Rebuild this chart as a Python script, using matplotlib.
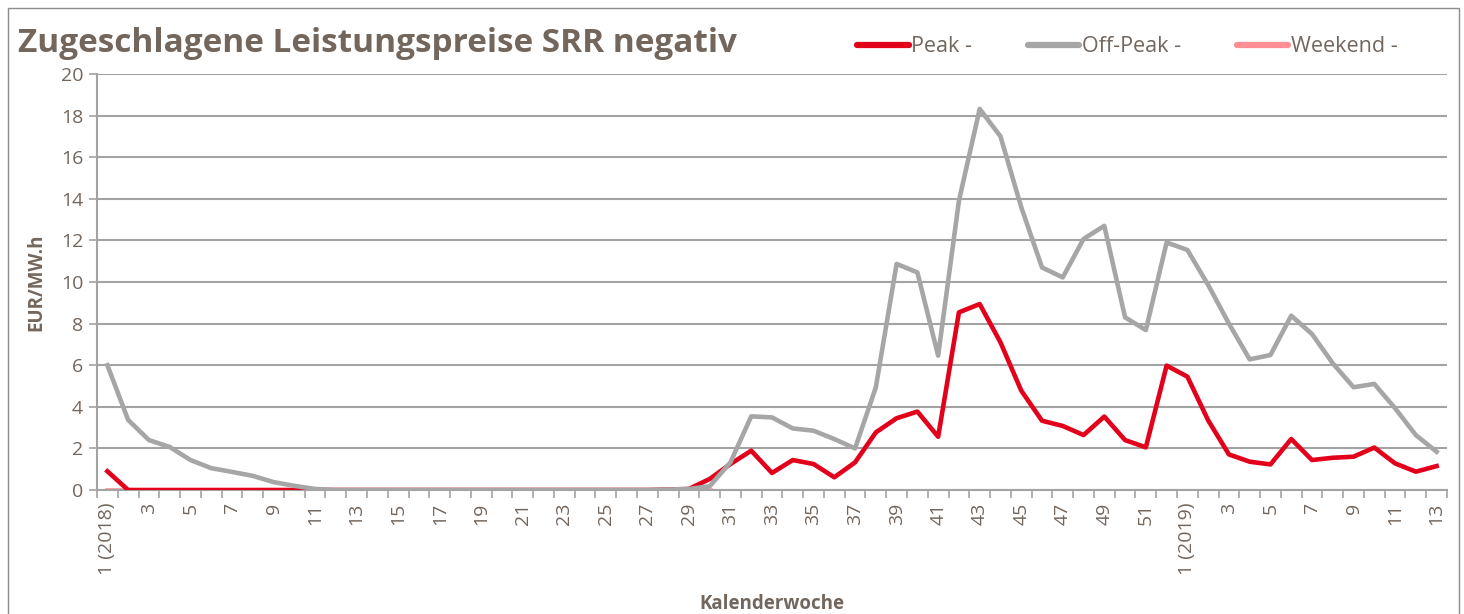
import numpy as np
import matplotlib.pyplot as plt
from matplotlib.patches import Rectangle

# Kalenderwochen 1..52 (2018) und 1..13 (2019)
weeks_2018 = list(range(1, 53))
weeks_2019 = list(range(1, 14))

peak = [0.9, 0, 0, 0, 0, 0, 0, 0, 0, 0,
        0, 0, 0, 0, 0, 0, 0, 0, 0, 0,
        0, 0, 0, 0, 0, 0, 0, 0.02, 0.05, 0.53,
        1.25, 1.89, 0.82, 1.44, 1.25, 0.61, 1.33, 2.77, 3.45, 3.77,
        2.56, 8.54, 8.94, 7.1, 4.78, 3.33, 3.08, 2.64, 3.53, 2.4,
        2.05, 5.98,
        5.45, 3.35, 1.71, 1.36, 1.23, 2.45, 1.44, 1.55, 1.6, 2.04,
        1.28, 0.88, 1.15]

offpeak = [6.0, 3.37, 2.4, 2.07, 1.44, 1.05, 0.87, 0.68, 0.38, 0.2,
           0.05, 0, 0, 0, 0, 0, 0, 0, 0, 0,
           0, 0, 0, 0, 0, 0, 0, 0.02, 0.05, 0.18,
           1.33, 3.54, 3.49, 2.96, 2.85, 2.45, 2.0, 4.94, 10.87, 10.46,
           6.46, 13.9, 18.32, 17.0, 13.6, 10.7, 10.22, 12.07, 12.7, 8.3,
           7.69, 11.9,
           11.54, 9.86, 8.0, 6.28, 6.49, 8.38, 7.5, 6.09, 4.94, 5.1,
           3.93, 2.64, 1.84]

weekend = [0.0] * 30 + [np.nan] * 35

labels = [f"{w} (2018)" if w == 1 else str(w) for w in weeks_2018] + \
         [f"{w} (2019)" if w == 1 else str(w) for w in weeks_2019]

txt = '#73665c'
grid = '#a3a3a3'

plt.rcParams['font.family'] = ['Open Sans', 'DejaVu Sans']

fig = plt.figure(figsize=(14.64, 6.14), dpi=100)
ax = fig.add_axes([97 / 1464, 1 - 490 / 614, 1350 / 1464, 416 / 614])

x = np.arange(len(labels))
ax.plot(x, weekend, color='#ff8f95', lw=3.3, label='Weekend -', zorder=2)
ax.plot(x, peak, color='#e2001a', lw=3.3, label='Peak -', zorder=3)
ax.plot(x, offpeak, color='#a6a6a6', lw=3.3, label='Off-Peak -', zorder=4)

ax.set_ylim(0, 20)
ax.set_yticks(range(0, 21, 2))
ax.set_xlim(-0.5, len(labels) - 0.5)
ax.set_xticks(x[::2])
ax.set_xticklabels(labels[::2], rotation=90)
ax.set_xticks(np.arange(-0.5, len(labels)), minor=True)
ax.tick_params(axis='x', which='major', length=0, pad=9, labelsize=14, labelcolor=txt)
ax.tick_params(axis='x', which='minor', length=6, width=1.2, color=grid, direction='out')
ax.tick_params(axis='y', length=6, width=1.2, color=grid, labelsize=14, labelcolor=txt, pad=4)

ax.grid(axis='y', color=grid, lw=1.5)
ax.set_axisbelow(True)
for s in ['top', 'right']:
    ax.spines[s].set_visible(False)
for s in ['left', 'bottom']:
    ax.spines[s].set_color(grid)
    ax.spines[s].set_linewidth(1.5)

ax.set_ylabel('EUR/MW.h', fontsize=13.5, fontweight='bold', color=txt, labelpad=10)
ax.set_xlabel('Kalenderwoche', fontsize=13.5, fontweight='bold', color=txt, labelpad=14)

fig.text(18 / 1464, 1 - 43 / 614, 'Zugeschlagene Leistungspreise SRR negativ',
         fontsize=24, fontweight='bold', color=txt, va='center', ha='left')

h, l = ax.get_legend_handles_labels()
order = [1, 2, 0]
leg = fig.legend([h[i] for i in order], [l[i] for i in order], ncol=3, frameon=False,
                 loc='center left', bbox_to_anchor=(857 / 1464, 1 - 47 / 614),
                 fontsize=15.5, handlelength=2.4, handletextpad=0.1, columnspacing=2.6,
                 borderaxespad=0, borderpad=0)
for t in leg.get_texts():
    t.set_color(txt)
for ln in leg.get_lines():
    ln.set_linewidth(4.5)
    ln.set_solid_capstyle('round')

fig.add_artist(Rectangle((8 / 1464, -0.01), 1451 / 1464, 1 - 8 / 614 + 0.01,
                         transform=fig.transFigure, fill=False, edgecolor='#8c8c8c', lw=1))

fig.savefig('out.png', dpi=100)
